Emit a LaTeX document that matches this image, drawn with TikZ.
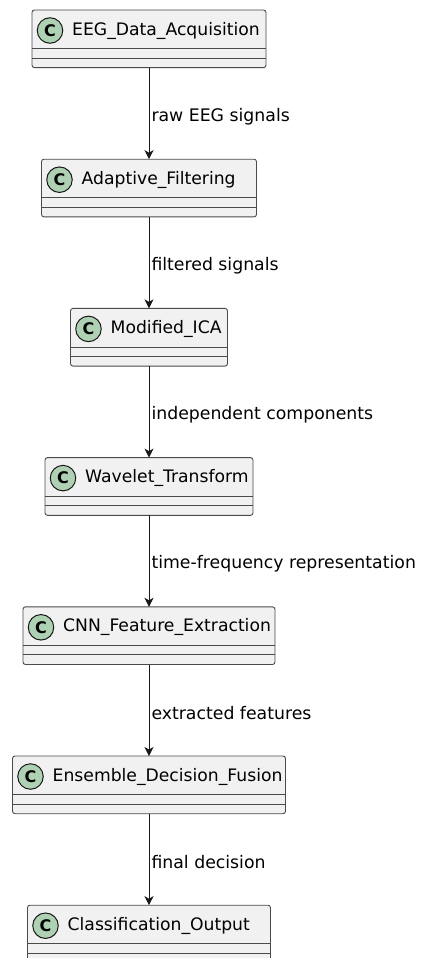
\documentclass[tikz,border=0pt]{standalone}
\usepackage{fontspec}
\setmainfont{DejaVu Sans}
\usetikzlibrary{arrows.meta}
\definecolor{boxfill}{HTML}{F1F1F1}
\definecolor{boxline}{HTML}{4A4A4A}
\definecolor{arrowline}{HTML}{181818}
\definecolor{spot}{HTML}{ADD1B2}
\tikzset{
  classbox/.style={draw=boxline, line width=0.9pt, fill=boxfill, rounded corners=2.5pt,
    minimum height=57.7pt, anchor=north, inner sep=0pt, outer sep=0pt},
  spotc/.style={circle, draw=arrowline, line width=1pt, fill=spot, minimum size=25.5pt,
    inner sep=0pt, font=\bfseries\fontsize{16}{16}\selectfont},
  cname/.style={anchor=west, inner sep=0pt, font=\fontsize{17.2}{17.2}\selectfont},
  sep/.style={draw=boxline, line width=0.7pt},
  flow/.style={draw=arrowline, line width=1pt, -{Stealth[length=9pt,width=9pt,inset=2.5pt]}},
  elabel/.style={anchor=west, inner sep=0pt, font=\fontsize{17.3}{17.3}\selectfont}
}
\begin{document}
\begin{tikzpicture}[x=1pt,y=-1pt]
\clip (0,0) rectangle (422,958);
\fill[white] (0,0) rectangle (422,958);
% boxes
\foreach \n/\w/\t/\name in {1/234/10/EEG\_Data\_Acquisition,
                            2/215/159.2/Adaptive\_Filtering,
                            3/157/308.4/Modified\_ICA,
                            4/208/457.6/Wavelet\_Transform,
                            5/252/606.8/CNN\_Feature\_Extraction,
                            6/273/756/Ensemble\_Decision\_Fusion,
                            7/243/905.2/Classification\_Output}{
  \node[classbox, minimum width=\w pt] (b\n) at (149,\t) {};
  \draw[sep] ([yshift=-38.5pt]b\n.north west) -- ([yshift=-38.5pt]b\n.north east);
  \draw[sep] ([yshift=-48pt]b\n.north west) -- ([yshift=-48pt]b\n.north east);
  \node[spotc] (s\n) at ([xshift=18pt,yshift=-20.5pt]b\n.north west) {C};
  \node[cname] (t\n) at ([xshift=40pt,yshift=-20.5pt]b\n.north west) {\name};
}
% connectors
\draw[flow] (b1.south) -- (b2.north) node[elabel, pos=0.5, xshift=2pt, yshift=-3pt] (l1) {raw EEG signals};
\draw[flow] (b2.south) -- (b3.north) node[elabel, pos=0.5, xshift=2pt, yshift=-3pt] (l2) {filtered signals};
\draw[flow] (b3.south) -- (b4.north) node[elabel, pos=0.5, xshift=2pt, yshift=-3pt] (l3) {independent components};
\draw[flow] (b4.south) -- (b5.north) node[elabel, pos=0.5, xshift=2pt, yshift=-3pt] (l4) {time-frequency representation};
\draw[flow] (b5.south) -- (b6.north) node[elabel, pos=0.5, xshift=2pt, yshift=-3pt] (l5) {extracted features};
\draw[flow] (b6.south) -- (b7.north) node[elabel, pos=0.5, xshift=2pt, yshift=-3pt] (l6) {final decision};
\end{tikzpicture}
\end{document}
